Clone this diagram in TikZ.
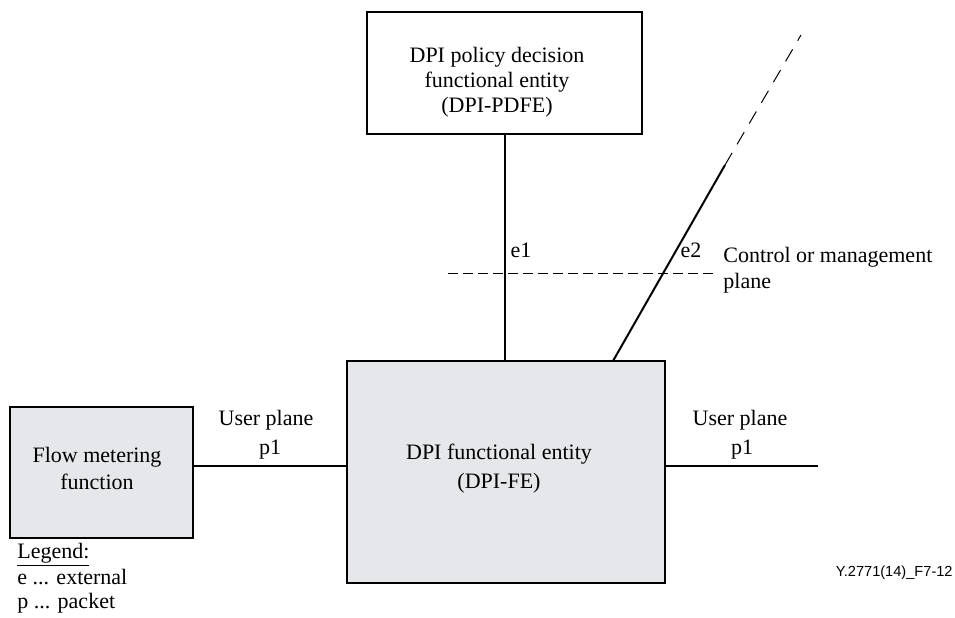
\documentclass[tikz,border=0pt]{standalone}
\usepackage{fontspec}
\setmainfont{Liberation Serif}
\newfontfamily\figfont{Liberation Sans}
\definecolor{boxgrey}{RGB}{230,231,235}
\tikzset{
  fe/.style={draw, line width=1pt, fill=boxgrey, inner sep=0pt},
  plainbox/.style={draw, line width=1pt, fill=white, inner sep=0pt},
  link/.style={line width=1pt},
  txt/.style={inner sep=0pt, align=center, font=\fontsize{11}{13.5}\selectfont},
}
\begin{document}
\begin{tikzpicture}[x=0.5pt,y=-0.5pt]
			\useasboundingbox (0,0) rectangle (955,617);
			% boxes
			\node[plainbox, minimum width=137.5pt, minimum height=61pt] (pdfe) at (504.5,73) {};
			\node[txt, font=\fontsize{11}{12.5}\selectfont] (pdfetext) at (497,82) {DPI policy decision\\functional entity\\(DPI-PDFE)};
			\node[fe, minimum width=159pt, minimum height=111pt] (dpife) at (506,472) {};
			\node[txt, font=\fontsize{11}{14.5}\selectfont] (dpifetext) at (499,469) {DPI functional entity\\(DPI-FE)};
			\node[fe, minimum width=91.5pt, minimum height=65.5pt] (flow) at (101.5,472.5) {};
			\node[txt] (flowtext) at (97,468) {Flow metering\\function};
			% reference points
			\coordinate (planeL) at (448,273);
			\coordinate (planeR) at (715,273);
			\coordinate (e2low) at (613,361);
			\coordinate (e2high) at (725,165);
			\coordinate (e2end) at (801,35);
			\coordinate (outR) at (818,466);
			% lines
			\draw[dash pattern=on 5pt off 2.5pt, line width=0.5pt] (planeL) -- (planeR);
			\draw[link] (pdfe.south) -- (pdfe.south |- dpife.north);
			\draw[link] (e2low) -- (e2high);
			\draw[dash pattern=on 7pt off 5pt, line width=0.5pt] (e2high) -- (e2end);
			\draw[link] (flow.east |- outR) -- (dpife.west |- outR);
			\draw[link] (dpife.east |- outR) -- (outR);
			% labels
			\node[txt] (e1) at (521,250) {e1};
			\node[txt] (e2) at (691,250) {e2};
			\node[txt, anchor=west, align=left, font=\fontsize{11}{13}\selectfont] (cplane) at (723,270) {Control or management\\plane};
			\node[txt] (upL) at (266,420) {User plane};
			\node[txt] (p1L) at (270,450) {p1};
			\node[txt] (upR) at (740,420) {User plane};
			\node[txt] (p1R) at (742,450) {p1};
			% legend
			\node[txt, anchor=base west] (legend) at (17,558) {\underline{Legend:}};
			\node[txt, anchor=base west] (lege) at (17,584) {e ... external};
			\node[txt, anchor=base west] (legp) at (17,608) {p ... packet};
			\node[inner sep=0pt, anchor=east, font=\figfont\fontsize{7.3}{8}\selectfont] (figid) at (953,573) {Y.2771(14)\_F7-12};
		\end{tikzpicture}
\end{document}
